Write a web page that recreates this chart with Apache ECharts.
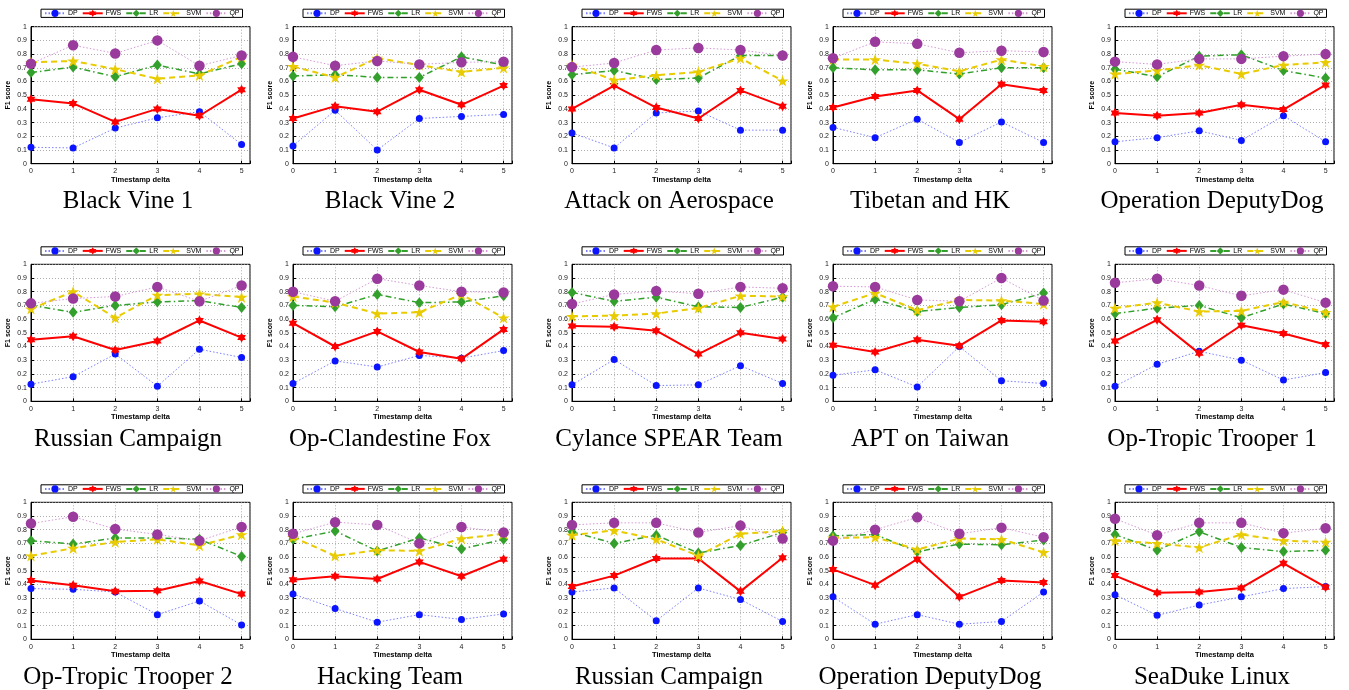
<!DOCTYPE html>
<html>
<head>
<meta charset="utf-8">
<script src="https://cdn.jsdelivr.net/npm/echarts@6/dist/echarts.min.js"></script>
<style>
html,body{margin:0;padding:0;background:#fff;}
#chart{width:1349px;height:690px;}
</style>
</head>
<body>
<div id="chart"></div>
<script>
// ---------- DATA ----------
const panelTitles = [
  'Black Vine 1', 'Black Vine 2', 'Attack on Aerospace', 'Tibetan and HK', 'Operation DeputyDog',
  'Russian Campaign', 'Op-Clandestine Fox', 'Cylance SPEAR Team', 'APT on Taiwan', 'Op-Tropic Trooper 1',
  'Op-Tropic Trooper 2', 'Hacking Team', 'Russian Campaign', 'Operation DeputyDog', 'SeaDuke Linux'
];
const timestampDelta = [0, 1, 2, 3, 4, 5];
const yTicks = [0, 0.1, 0.2, 0.3, 0.4, 0.5, 0.6, 0.7, 0.8, 0.9, 1];
const methods = ['DP', 'FWS', 'LR', 'SVM', 'QP'];

const DP = [
  [0.12, 0.115, 0.26, 0.335, 0.38, 0.14],
  [0.13, 0.39, 0.10, 0.33, 0.345, 0.36],
  [0.225, 0.115, 0.37, 0.385, 0.245, 0.245],
  [0.265, 0.19, 0.325, 0.155, 0.305, 0.155],
  [0.16, 0.19, 0.24, 0.17, 0.35, 0.16],
  [0.125, 0.18, 0.345, 0.11, 0.38, 0.32],
  [0.13, 0.295, 0.25, 0.335, 0.315, 0.37],
  [0.12, 0.305, 0.115, 0.12, 0.26, 0.13],
  [0.19, 0.23, 0.105, 0.40, 0.15, 0.13],
  [0.11, 0.27, 0.365, 0.30, 0.155, 0.21],
  [0.37, 0.365, 0.345, 0.18, 0.28, 0.105],
  [0.33, 0.225, 0.125, 0.18, 0.145, 0.185],
  [0.345, 0.375, 0.135, 0.375, 0.29, 0.13],
  [0.31, 0.11, 0.18, 0.11, 0.13, 0.345],
  [0.325, 0.175, 0.25, 0.31, 0.37, 0.385]
];
const FWS = [
  [0.47, 0.44, 0.305, 0.40, 0.35, 0.54],
  [0.33, 0.42, 0.38, 0.54, 0.43, 0.57],
  [0.40, 0.57, 0.41, 0.33, 0.535, 0.42],
  [0.41, 0.49, 0.535, 0.325, 0.58, 0.535],
  [0.37, 0.35, 0.37, 0.43, 0.395, 0.575],
  [0.45, 0.475, 0.375, 0.44, 0.59, 0.465],
  [0.57, 0.40, 0.51, 0.36, 0.31, 0.525],
  [0.55, 0.545, 0.515, 0.345, 0.50, 0.455],
  [0.41, 0.36, 0.45, 0.405, 0.59, 0.58],
  [0.44, 0.595, 0.35, 0.555, 0.495, 0.415],
  [0.43, 0.395, 0.35, 0.355, 0.425, 0.33],
  [0.435, 0.46, 0.44, 0.565, 0.46, 0.585],
  [0.385, 0.465, 0.59, 0.59, 0.35, 0.595],
  [0.51, 0.395, 0.585, 0.31, 0.43, 0.415],
  [0.465, 0.34, 0.345, 0.375, 0.555, 0.38]
];
const LR = [
  [0.665, 0.705, 0.635, 0.72, 0.655, 0.73],
  [0.64, 0.65, 0.63, 0.63, 0.78, 0.72],
  [0.65, 0.68, 0.615, 0.625, 0.79, 0.79],
  [0.70, 0.685, 0.685, 0.655, 0.70, 0.70],
  [0.69, 0.635, 0.785, 0.795, 0.68, 0.625],
  [0.70, 0.65, 0.70, 0.725, 0.735, 0.685],
  [0.70, 0.69, 0.78, 0.72, 0.725, 0.77],
  [0.795, 0.73, 0.76, 0.69, 0.685, 0.76],
  [0.61, 0.745, 0.655, 0.685, 0.705, 0.79],
  [0.64, 0.68, 0.70, 0.61, 0.71, 0.64],
  [0.72, 0.695, 0.74, 0.74, 0.73, 0.605],
  [0.73, 0.79, 0.645, 0.74, 0.66, 0.73],
  [0.785, 0.70, 0.76, 0.63, 0.685, 0.78],
  [0.755, 0.765, 0.64, 0.695, 0.69, 0.725],
  [0.765, 0.65, 0.785, 0.67, 0.64, 0.65]
];
const SVM = [
  [0.74, 0.75, 0.69, 0.62, 0.645, 0.78],
  [0.71, 0.63, 0.77, 0.72, 0.67, 0.70],
  [0.72, 0.61, 0.645, 0.67, 0.77, 0.605],
  [0.76, 0.76, 0.73, 0.675, 0.76, 0.71],
  [0.655, 0.68, 0.72, 0.655, 0.72, 0.74],
  [0.675, 0.80, 0.61, 0.775, 0.785, 0.76],
  [0.765, 0.72, 0.64, 0.65, 0.78, 0.61],
  [0.62, 0.625, 0.64, 0.68, 0.77, 0.765],
  [0.69, 0.79, 0.665, 0.74, 0.735, 0.71],
  [0.68, 0.72, 0.655, 0.66, 0.725, 0.65],
  [0.61, 0.665, 0.71, 0.73, 0.685, 0.765],
  [0.745, 0.61, 0.65, 0.645, 0.735, 0.77],
  [0.76, 0.795, 0.73, 0.61, 0.77, 0.79],
  [0.74, 0.745, 0.655, 0.735, 0.73, 0.635],
  [0.72, 0.70, 0.67, 0.765, 0.72, 0.71]
];
const QP = [
  [0.73, 0.865, 0.805, 0.90, 0.715, 0.79],
  [0.78, 0.715, 0.75, 0.725, 0.74, 0.745],
  [0.705, 0.735, 0.83, 0.845, 0.83, 0.79],
  [0.77, 0.89, 0.875, 0.81, 0.825, 0.815],
  [0.745, 0.725, 0.765, 0.765, 0.785, 0.80],
  [0.715, 0.75, 0.765, 0.835, 0.73, 0.845],
  [0.80, 0.73, 0.895, 0.845, 0.80, 0.795],
  [0.71, 0.78, 0.805, 0.785, 0.835, 0.825],
  [0.84, 0.835, 0.74, 0.73, 0.90, 0.735],
  [0.865, 0.895, 0.845, 0.77, 0.815, 0.72],
  [0.845, 0.895, 0.805, 0.765, 0.72, 0.82],
  [0.77, 0.855, 0.835, 0.70, 0.82, 0.78],
  [0.835, 0.85, 0.85, 0.78, 0.83, 0.735],
  [0.72, 0.80, 0.89, 0.77, 0.815, 0.745],
  [0.88, 0.76, 0.85, 0.85, 0.775, 0.81]
];
const seriesValues = { DP, FWS, LR, SVM, QP };

// ---------- STYLE / LAYOUT ----------
const HEXAGRAM = 'path://M0,-100 L29,-50 L87,-50 L58,0 L87,50 L29,50 L0,100 L-29,50 L-87,50 L-58,0 L-87,-50 L-29,-50 Z';
const PENTAGRAM = 'path://M0,-100 L22.5,-30.9 L95.1,-30.9 L36.3,11.8 L58.8,80.9 L0,38.2 L-58.8,80.9 L-36.3,11.8 L-95.1,-30.9 L-22.5,-30.9 Z';
const styles = {
  DP:  { symbol: 'circle',  size: 7,  color: '#0a14ff', line: { color: '#7a80ff', width: 1,   type: [1.5, 2] } },
  FWS: { symbol: HEXAGRAM,  size: 10, color: '#ff0000', line: { color: '#ff0000', width: 2,   type: 'solid' } },
  LR:  { symbol: 'diamond', size: [9, 11], color: '#33a02c', line: { color: '#33a02c', width: 1.5, type: [6, 3, 1.5, 3] } },
  SVM: { symbol: PENTAGRAM, size: 12, color: '#e8cb00', line: { color: '#e8cb00', width: 2,   type: [6, 4] } },
  QP:  { symbol: 'circle',  size: 10.5, color: '#9a3a9c', line: { color: '#d59ad6', width: 1,   type: [1.5, 2] } }
};
const colLeft = [31, 293, 572, 833, 1115];
const rowTop = [26.7, 264.3, 502.3];
const plotW = 219, plotH = 137;

const grids = [], xAxes = [], yAxes = [], series = [], legends = [], graphics = [];
panelTitles.forEach((title, i) => {
  const c = i % 5, r = Math.floor(i / 5);
  const L = colLeft[c], T = rowTop[r];
  grids.push({ left: L, top: T, width: plotW, height: plotH, show: true, borderColor: '#000', borderWidth: 1, backgroundColor: 'rgba(0,0,0,0)' });
  xAxes.push({
    gridIndex: i, type: 'value', min: 0, max: 5.2, interval: 1,
    name: 'Timestamp delta', nameLocation: 'middle', nameGap: 12,
    nameTextStyle: { fontSize: 7.5, fontWeight: 'bold', color: '#000' },
    axisLine: { lineStyle: { color: '#000', width: 1 } },
    axisTick: { inside: true, length: 3, lineStyle: { color: '#000' } },
    axisLabel: { fontSize: 7, color: '#222', margin: 4, showMaxLabel: true,
      formatter: v => (timestampDelta.indexOf(v) >= 0 ? String(v) : '') },
    splitLine: { show: true, lineStyle: { type: [1, 2], color: '#999', width: 0.8 } }
  });
  yAxes.push({
    gridIndex: i, type: 'value', min: 0, max: 1, interval: 0.1,
    name: 'F1 score', nameLocation: 'middle', nameGap: 19, nameRotate: 90,
    nameTextStyle: { fontSize: 7, fontWeight: 'bold', color: '#000' },
    axisLine: { lineStyle: { color: '#000', width: 1 } },
    axisTick: { inside: true, length: 3, lineStyle: { color: '#000' } },
    axisLabel: { fontSize: 7, color: '#222', margin: 4,
      formatter: v => { const k = Math.round(v * 10) / 10; return yTicks.indexOf(k) >= 0 ? String(k) : ''; } },
    splitLine: { show: true, lineStyle: { type: [1, 2], color: '#999', width: 0.8 } }
  });
  methods.forEach((m, k) => {
    const st = styles[m];
    series.push({
      type: 'line', name: m, xAxisIndex: i, yAxisIndex: i,
      data: timestampDelta.map((x, j) => [x, seriesValues[m][i][j]]),
      symbol: st.symbol, symbolSize: st.size, symbolKeepAspect: true, showAllSymbol: true,
      itemStyle: { color: st.color, borderWidth: 0 },
      lineStyle: st.line,
      z: 2 + k
    });
  });
  legends.push({
    data: methods, left: L + 10, top: T - 17.5, orient: 'horizontal',
    itemWidth: 20, itemHeight: 9, itemGap: 4, padding: [0.5, 3],
    borderColor: '#000', borderWidth: 1, backgroundColor: '#fff', selectedMode: false,
    textStyle: { fontSize: 7, color: '#000', padding: [0, 0, 0, -2] }
  });
  graphics.push({
    type: 'text', x: L + 97, y: T + plotH + 38,
    style: { text: title, fontSize: 25, fontFamily: '"Liberation Serif", serif', fill: '#000',
      align: 'center', verticalAlign: 'middle', textAlign: 'center', textVerticalAlign: 'middle' }
  });
});

const chart = echarts.init(document.getElementById('chart'), null, { renderer: 'canvas' });
chart.setOption({
  animation: false,
  backgroundColor: '#fff',
  textStyle: { fontFamily: '"Liberation Sans", Arial, sans-serif' },
  grid: grids, xAxis: xAxes, yAxis: yAxes, legend: legends, series: series, graphic: graphics
});
</script>
</body>
</html>
